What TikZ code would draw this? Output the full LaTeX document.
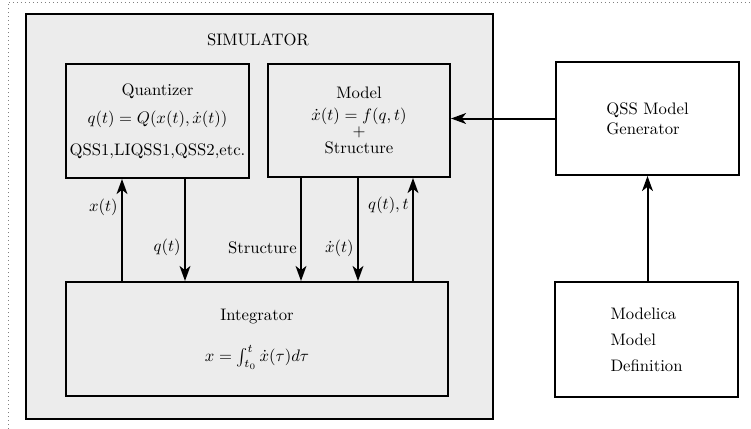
\documentclass[tikz,border=0pt]{standalone}
\usetikzlibrary{arrows.meta}

\definecolor{simgray}{RGB}{236,236,236}

\tikzset{
  box/.style={draw, line width=1.2pt, align=center, inner sep=0pt},
  arr/.style={line width=1.2pt, -{Stealth[length=9pt,width=6.5pt,inset=2.5pt]}},
  lbl/.style={left, inner sep=2pt}
}

\begin{document}
\begin{tikzpicture}[x=0.6pt, y=-0.6pt]
\useasboundingbox (0,0) rectangle (751,429);
\draw[gray, dotted] (8,429) -- (8,2) -- (751,2);

% simulator frame
\node[box, fill=simgray, minimum width=280.2pt, minimum height=243pt] (sim) at (259.5,216.5) {};
\node (simlabel) at (258,40) {SIMULATOR};

\node[box, fill=simgray, minimum width=109.8pt, minimum height=68.4pt] (quant) at (157.5,121)
  {Quantizer\\[5pt] $q(t)=Q(x(t),\dot{x}(t))$\\[7pt] QSS1,LIQSS1,QSS2,etc.};
\node[box, fill=simgray, minimum width=109.2pt, minimum height=67.8pt] (model) at (359,120.5)
  {Model\\[1pt] $\dot{x}(t)=f(q,t)$\\[-2pt] $+$\\[-2pt] Structure};
\node[box, fill=simgray, minimum width=229.2pt, minimum height=68.4pt] (integ) at (257,339)
  {Integrator\\[13pt] $x=\int_{t_0}^{t}\dot{x}(\tau)d\tau$};

% outside
\node[box, fill=white, align=left, minimum width=109.8pt, minimum height=67.8pt] (gen) at (647.5,118.5)
  {QSS Model\\ Generator};
\node[box, fill=white, align=left, minimum width=109.8pt, minimum height=69pt] (mdl) at (646.5,339.5)
  {Modelica\\[3.5pt] Model\\[3.5pt] Definition};

\draw[arr] (integ.north -| 122,0) -- node[lbl, pos=0.72] {$x(t)$} (quant.south -| 122,0);
\draw[arr] (quant.south -| 185,0) -- node[lbl, pos=0.67] {$q(t)$} (integ.north -| 185,0);
\draw[arr] (model.south -| 301,0) -- node[lbl, pos=0.68] {Structure} (integ.north -| 301,0);
\draw[arr] (model.south -| 358,0) -- node[lbl, pos=0.68] {$\dot{x}(t)$} (integ.north -| 358,0);
\draw[arr] (integ.north -| 413,0) -- node[lbl, pos=0.73] {$q(t),t$} (model.south -| 413,0);

\draw[arr] (gen.west) -- (model.east |- gen.west);
\draw[arr] (mdl.north -| gen.south) -- (gen.south);
\end{tikzpicture}
\end{document}
